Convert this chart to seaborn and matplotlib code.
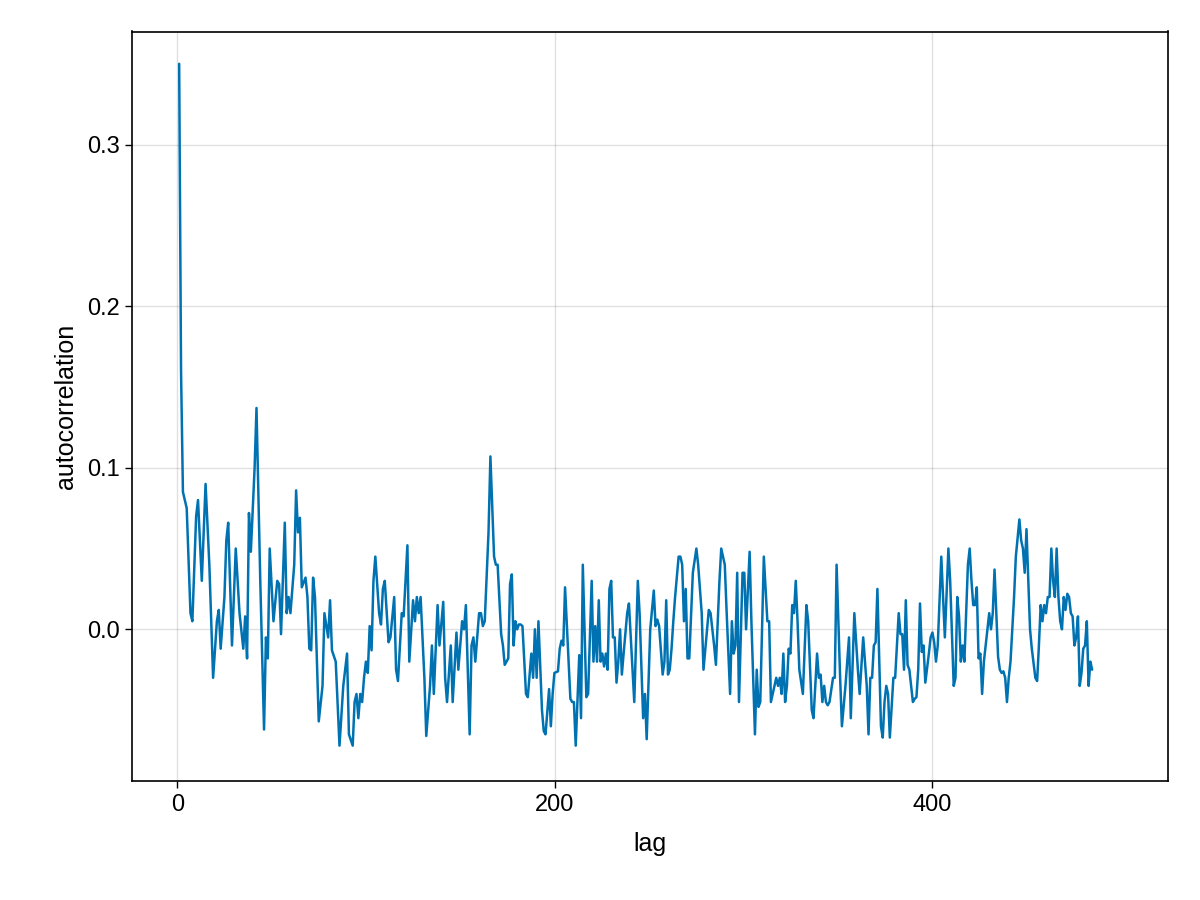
import numpy as np
import pandas as pd
import matplotlib
matplotlib.use("Agg")
import matplotlib.pyplot as plt
import seaborn as sns

pairs = """1 0.35, 2 0.16, 3 0.085, 5 0.075, 7 0.01, 8 0.005, 10 0.07, 11 0.08, 13 0.03, 15 0.09, 17 0.04, 19 -0.03, 21 0.005, 22 0.012, 23 -0.012, 25 0.02, 26 0.055, 27 0.066, 29 -0.01, 31 0.05, 33 0.01, 35 -0.012, 36 0.008, 37 -0.018, 38 0.072, 39 0.048, 41 0.1, 42 0.137, 44 0.03, 46 -0.062, 47 -0.005, 48 -0.018, 49 0.05, 51 0.005, 53 0.03, 54 0.028, 55 -0.003, 57 0.066, 58 0.01, 59 0.02, 60 0.01, 62 0.04, 63 0.086, 64 0.06, 65 0.069, 66 0.026, 68 0.032, 69 0.02, 70 -0.012, 71 -0.013, 72 0.032, 73 0.02, 75 -0.057, 77 -0.035, 78 0.01, 80 -0.005, 81 0.018, 82 -0.013, 84 -0.02, 86 -0.072, 88 -0.035, 90 -0.015, 91 -0.065, 93 -0.072, 94 -0.045, 95 -0.04, 96 -0.055, 97 -0.04, 98 -0.045, 99 -0.03, 100 -0.02, 101 -0.027, 102 0.002, 103 -0.013, 104 0.03, 105 0.045, 107 0.01, 108 0.003, 109 0.025, 110 0.03, 112 -0.008, 113 -0.005, 115 0.02, 116 -0.025, 117 -0.032, 119 0.01, 120 0.008, 122 0.052, 123 -0.02, 125 0.018, 126 0.005, 127 0.02, 128 0.01, 129 0.02, 131 -0.03, 132 -0.066, 134 -0.035, 135 -0.01, 136 -0.04, 138 0.015, 139 -0.01, 141 0.017, 142 -0.03, 143 -0.045, 145 -0.01, 146 -0.045, 148 -0.002, 149 -0.025, 151 0.005, 152 0, 153 0.015, 155 -0.065, 156 -0.01, 157 -0.005, 158 -0.02, 160 0.01, 161 0.01, 162 0.002, 163 0.005, 165 0.06, 166 0.107, 168 0.045, 169 0.04, 170 0.04, 172 -0.003, 173 -0.01, 174 -0.022, 175 -0.02, 176 -0.018, 177 0.028, 178 0.034, 179 -0.01, 180 0.005, 181 0, 182 0.003, 183 0.003, 184 0.002, 186 -0.04, 187 -0.042, 189 -0.015, 190 -0.03, 191 0, 192 -0.03, 193 0.005, 195 -0.05, 196 -0.063, 197 -0.065, 199 -0.037, 200 -0.06, 201 -0.04, 202 -0.027, 204 -0.026, 205 -0.012, 206 -0.007, 207 -0.01, 208 0.026, 209 0.003, 211 -0.043, 212 -0.045, 213 -0.045, 214 -0.072, 216 -0.016, 217 -0.055, 218 0.04, 220 -0.042, 221 -0.04, 223 0.03, 224 -0.02, 225 0.002, 226 -0.02, 227 0.018, 228 -0.02, 229 -0.015, 230 -0.023, 231 -0.015, 232 -0.025, 233 0.025, 234 0.03, 235 -0.005, 236 -0.005, 237 -0.033, 238 -0.02, 239 0, 240 -0.028, 241 -0.015, 243 0.01, 244 0.016, 246 -0.025, 247 -0.045, 249 0.03, 250 0.01, 252 -0.055, 253 -0.04, 254 -0.068, 256 0, 258 0.024, 259 0.002, 260 0.006, 261 0.002, 263 -0.028, 264 -0.02, 265 0.018, 266 -0.028, 267 -0.025, 268 -0.012, 269 0.005, 270 0.02, 272 0.045, 273 0.045, 274 0.04, 275 0.005, 276 0.025, 277 -0.018, 278 -0.018, 280 0.035, 282 0.05, 283 0.04, 285 0.01, 286 -0.025, 288 0, 289 0.012, 290 0.01, 292 -0.01, 293 -0.022, 295 0.03, 296 0.05, 298 0.04, 299 0.012, 301 -0.04, 302 0.005, 303 -0.015, 304 -0.01, 305 0.035, 306 -0.045, 308 0.035, 309 0.035, 310 0, 312 0.048, 313 0.005, 315 -0.065, 316 -0.025, 317 -0.048, 318 -0.045, 320 0.045, 321 0.025, 322 0.005, 323 0.005, 324 -0.045, 326 -0.035, 327 -0.03, 328 -0.035, 329 -0.03, 330 -0.04, 331 -0.015, 332 -0.045, 333 -0.035, 334 -0.012, 335 -0.015, 336 0.015, 337 0.01, 338 0.03, 339 0.005, 340 -0.025, 342 -0.04, 344 0.015, 345 0.005, 347 -0.05, 348 -0.055, 350 -0.015, 351 -0.03, 352 -0.028, 353 -0.045, 354 -0.035, 355 -0.045, 356 -0.047, 357 -0.045, 359 -0.03, 360 -0.03, 361 0.04, 363 -0.03, 364 -0.06, 366 -0.035, 368 -0.005, 369 -0.055, 371 0.01, 373 -0.025, 374 -0.04, 376 -0.005, 377 -0.02, 378 -0.035, 379 -0.065, 380 -0.03, 381 -0.03, 382 -0.01, 383 -0.008, 384 0.025, 386 -0.06, 387 -0.067, 388 -0.045, 389 -0.035, 390 -0.04, 391 -0.067, 393 -0.03, 394 -0.03, 396 0.01, 397 -0.003, 398 -0.003, 399 -0.025, 400 0.018, 401 -0.022, 402 -0.025, 404 -0.045, 405 -0.043, 406 -0.042, 407 -0.025, 408 0.016, 409 -0.014, 410 -0.01, 411 -0.033, 413 -0.015, 414 -0.005, 415 -0.002, 416 -0.008, 417 -0.02, 418 -0.01, 420 0.045, 421 0.02, 422 -0.005, 424 0.05, 425 0.03, 427 -0.035, 428 -0.03, 429 0.02, 430 0.008, 431 -0.02, 432 -0.01, 433 -0.02, 435 0.04, 436 0.05, 437 0.03, 438 0.015, 439 0.015, 440 0.026, 441 -0.018, 442 -0.015, 443 -0.04, 444 -0.02, 446 0, 447 0.01, 448 0, 449 0.01, 450 0.037, 452 -0.017, 453 -0.025, 454 -0.027, 455 -0.026, 456 -0.03, 457 -0.045, 458 -0.03, 459 -0.02, 461 0.02, 462 0.045, 464 0.068, 465 0.055, 466 0.05, 467 0.035, 468 0.062, 470 0, 471 -0.012, 473 -0.03, 474 -0.032, 475 -0.01, 476 0.015, 477 0.005, 478 0.015, 479 0.01, 480 0.02, 481 0.02, 482 0.05, 483 0.03, 484 0.02, 485 0.05, 486 0.02, 487 0.005, 488 0, 489 0.02, 490 0.012, 491 0.022, 492 0.02, 493 0.01, 494 0.008, 495 -0.01, 496 -0.005, 497 0.008, 498 -0.035, 499 -0.027, 500 -0.012, 501 -0.01, 502 0.005, 503 -0.035, 504 -0.02, 505 -0.025"""

read_lag = [float(p.split()[0]) for p in pairs.split(",")]
autocorr = [float(p.split()[1]) for p in pairs.split(",")]

# my read positions drift after lag ~167; the series ends at about lag 485
lag = [l if l <= 167 else 167 + (l - 167) * (485 - 167) / (505 - 167) for l in read_lag]
df = pd.DataFrame({"lag": lag, "autocorrelation": autocorr})

sns.set_theme(style="white")
plt.rcParams['font.family'] = ['Liberation Sans', 'DejaVu Sans']
fig, ax = plt.subplots(figsize=(12, 9), dpi=100)
fig.subplots_adjust(left=0.11, right=0.973, top=0.965, bottom=0.132)
sns.lineplot(data=df, x="lag", y="autocorrelation", color="#0072B2", linewidth=1.8, ax=ax)
ax.set_xlim(-24, 525)
ax.set_ylim(-0.094, 0.37)
ax.set_xticks([0, 200, 400])
ax.set_yticks([0.0, 0.1, 0.2, 0.3])
ax.set_yticklabels(["0.0", "0.1", "0.2", "0.3"])
ax.grid(True, color="#000000", alpha=0.12, linewidth=1)
for s in ax.spines.values():
    s.set_color("black"); s.set_linewidth(1.2)
ax.tick_params(axis="both", labelsize=17, labelcolor="black", length=5, width=1, color="black", direction="out", pad=4)
ax.tick_params(axis="x", bottom=True)
ax.tick_params(axis="y", left=True)
ax.set_xlabel("lag", fontsize=18, color="black", labelpad=12)
ax.set_ylabel("autocorrelation", fontsize=18, color="black", labelpad=6)
fig.savefig("out.png")
